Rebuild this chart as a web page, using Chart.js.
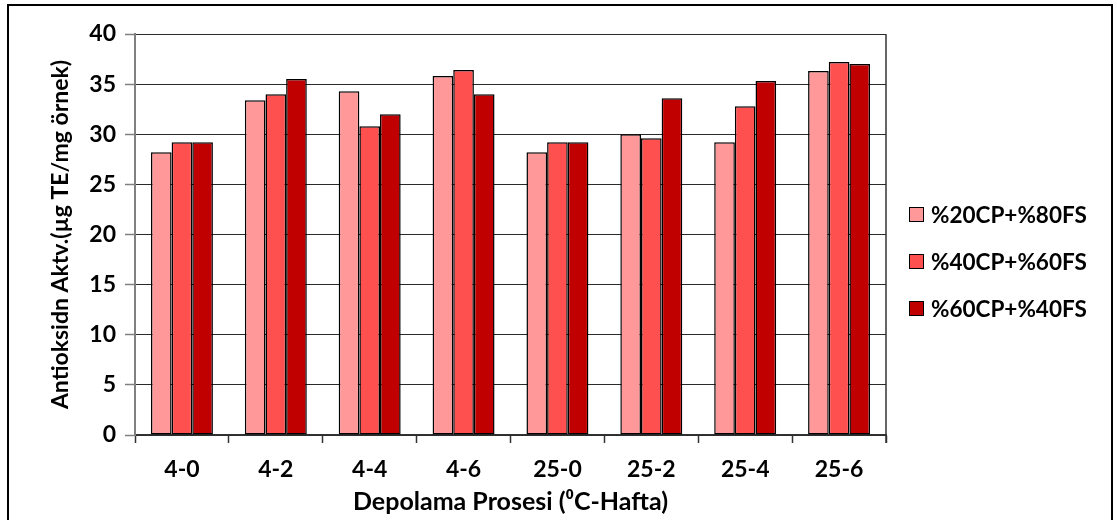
<!DOCTYPE html>
<html>
<head>
<meta charset="utf-8">
<script src="https://cdn.jsdelivr.net/npm/chart.js@4.4.1/dist/chart.umd.min.js"></script>
<style>
  html, body { margin: 0; padding: 0; background: #fff; }
  #wrap { position: relative; width: 1117px; height: 520px; overflow: hidden; }
  #frame { position: absolute; left: 7px; top: 4px; width: 1106px; height: 600px;
           border: 2px solid #000; box-sizing: border-box; pointer-events: none; }
</style>
</head>
<body>
<div id="wrap">
  <canvas id="chart" width="1117" height="520"></canvas>
  <div id="frame"></div>
</div>
<script>
// storage condition (degC - week)
const categories = ['4-0', '4-2', '4-4', '4-6', '25-0', '25-2', '25-4', '25-6'];

const seriesNames = ['%20CP+%80FS', '%40CP+%60FS', '%60CP+%40FS'];
const seriesColors = ['#FF9999', '#FF5050', '#C00000'];

const cp20 = [28.2, 33.4, 34.3, 35.8, 28.2, 30.0, 29.2, 36.3];
const cp40 = [29.2, 34.0, 30.8, 36.4, 29.2, 29.6, 32.8, 37.2];
const cp60 = [29.2, 35.5, 32.0, 34.0, 29.2, 33.6, 35.3, 37.0];

const yTicks = [0, 5, 10, 15, 20, 25, 30, 35, 40];

const FONT = 'Lato, "Open Sans", sans-serif';

// legend on the right, drawn by hand so spacing matches
const sideLegend = {
  id: 'sideLegend',
  afterDraw(chart) {
    const ctx = chart.ctx;
    const rows = [215, 262, 309];
    ctx.save();
    chart.data.datasets.forEach((ds, i) => {
      const y = rows[i];
      ctx.fillStyle = ds.backgroundColor;
      ctx.fillRect(909.5, y - 7.5, 14, 14);
      ctx.strokeStyle = '#000';
      ctx.lineWidth = 1;
      ctx.strokeRect(909.5, y - 7.5, 14, 14);
      ctx.fillStyle = '#000';
      ctx.font = 'bold 22.5px ' + FONT;
      ctx.textBaseline = 'middle';
      ctx.textAlign = 'left';
      ctx.fillText(ds.label, 931, y + 1);
    });
    ctx.restore();
  }
};

// right edge of the plot area
const plotEdge = {
  id: 'plotEdge',
  afterDatasetsDraw(chart) {
    const a = chart.chartArea;
    const ctx = chart.ctx;
    ctx.save();
    ctx.strokeStyle = '#333';
    ctx.lineWidth = 1.5;
    ctx.beginPath();
    ctx.moveTo(a.right, a.top);
    ctx.lineTo(a.right, a.bottom + 8);
    ctx.stroke();
    ctx.restore();
  }
};

const datasets = [cp20, cp40, cp60].map((vals, i) => ({
  label: seriesNames[i],
  data: vals,
  backgroundColor: seriesColors[i],
  borderColor: '#000',
  borderWidth: 1.5,
  borderSkipped: false,
  categoryPercentage: 0.66,
  barPercentage: 1.0
}));

new Chart(document.getElementById('chart'), {
  type: 'bar',
  data: { labels: categories, datasets: datasets },
  options: {
    responsive: false,
    animation: false,
    layout: { padding: { top: 34, right: 231, bottom: 0, left: 0 } },
    plugins: {
      legend: { display: false },
      tooltip: { enabled: false }
    },
    scales: {
      x: {
        afterFit(scale) { scale.height = 85; },
        grid: {
          offset: true,
          drawOnChartArea: false,
          tickLength: 8,
          tickColor: '#333',
          tickWidth: 1.5
        },
        border: { display: true, color: '#333', width: 1.5 },
        ticks: {
          padding: 13,
          color: '#000',
          font: { family: FONT, size: 23, weight: 'bold' }
        },
        title: {
          display: true,
          text: 'Depolama Prosesi (⁰C-Hafta)',
          color: '#000',
          font: { family: FONT, size: 25, weight: 'bold' },
          padding: { top: 0, bottom: 3 }
        }
      },
      y: {
        min: 0,
        max: 40,
        afterFit(scale) { scale.width = 135; },
        afterBuildTicks(scale) { scale.ticks = yTicks.map(v => ({ value: v })); },
        grid: {
          color: '#2a2a2a',
          lineWidth: 1,
          tickLength: 10,
          tickColor: '#808080',
          tickWidth: 1.5
        },
        border: { display: true, color: '#808080', width: 2 },
        ticks: {
          padding: 9,
          color: '#000',
          font: { family: FONT, size: 23, weight: 'bold' }
        },
        title: {
          display: true,
          text: 'Antioksidn Aktv.(µg TE/mg örnek)',
          color: '#000',
          font: { family: FONT, size: 23, weight: 'bold' },
          padding: { top: 47, bottom: 0 }
        }
      }
    }
  },
  plugins: [sideLegend, plotEdge]
});
</script>
</body>
</html>
